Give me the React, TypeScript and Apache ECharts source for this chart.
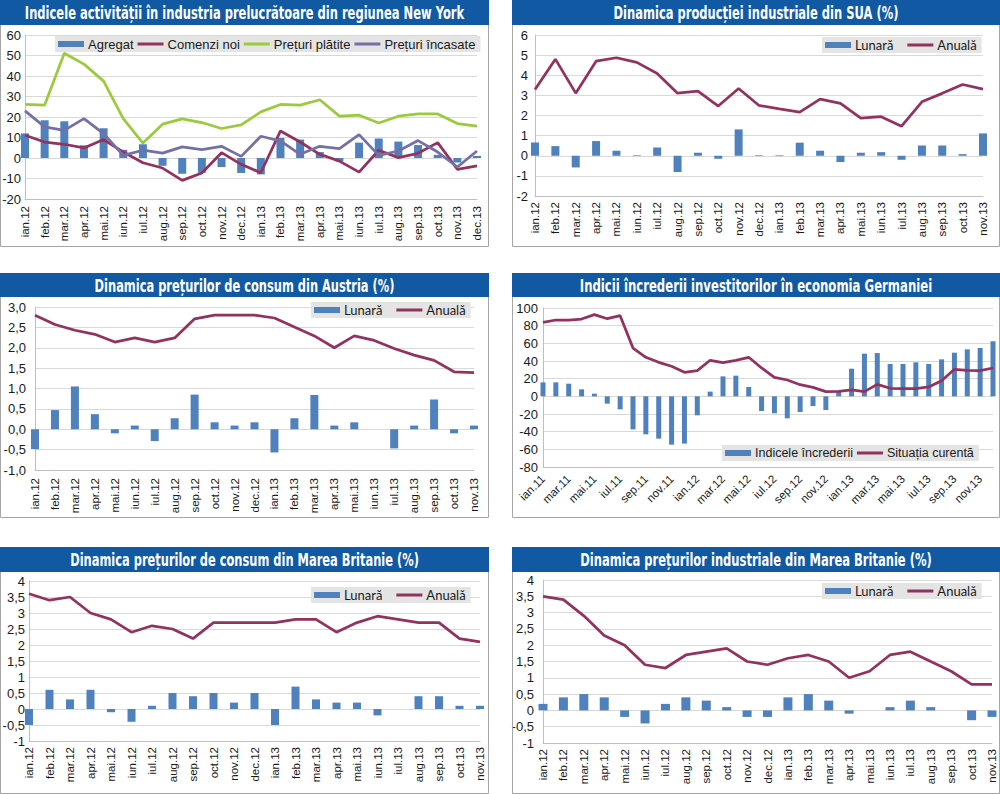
import React, { useEffect, useRef } from "react";
import * as echarts from "echarts";

// ---------- Categories ----------
const monthsNY = ["ian.12","feb.12","mar.12","apr.12","mai.12","iun.12","iul.12","aug.12","sep.12","oct.12","nov.12","dec.12","ian.13","feb.13","mar.13","apr.13","mai.13","iun.13","iul.13","aug.13","sep.13","oct.13","nov.13","dec.13"];
const months23 = ["ian.12","feb.12","mar.12","apr.12","mai.12","iun.12","iul.12","aug.12","sep.12","oct.12","nov.12","dec.12","ian.13","feb.13","mar.13","apr.13","mai.13","iun.13","iul.13","aug.13","sep.13","oct.13","nov.13"];
const monthsDE = ["ian.11","feb.11","mar.11","apr.11","mai.11","iun.11","iul.11","aug.11","sep.11","oct.11","nov.11","dec.11","ian.12","feb.12","mar.12","apr.12","mai.12","iun.12","iul.12","aug.12","sep.12","oct.12","nov.12","dec.12","ian.13","feb.13","mar.13","apr.13","mai.13","iun.13","iul.13","aug.13","sep.13","oct.13","nov.13","dec.13"];

// ---------- Panel 1: New York ----------
const nyAgregat = [12, 18.4, 17.9, 6.2, 14.5, 4, 6.7, -3.8, -7.7, -7.2, -4.4, -7.3, -8, 9.8, 9, 2.9, -1.6, 7.5, 9.5, 8, 6.3, 1.5, -2.2, 1];
const nyComenzi = [11.1, 7.8, 6.7, 4.9, 9.0, 2.9, -2.3, -4.9, -10.9, -7.3, 2.6, -3.1, -7.2, 13.2, 7.8, 1.8, -1.5, -6.9, 3.8, 0.2, 2.3, 7.5, -5.5, -3.8];
const nyPlatite = [26.1, 25.8, 51.1, 45.8, 37.5, 19.2, 7.3, 16.5, 19.1, 17.3, 14.4, 16.2, 22.5, 26.1, 25.8, 28.4, 20.4, 20.9, 17.1, 20.4, 21.5, 21.5, 16.8, 15.5];
const nyIncasate = [23.0, 15.2, 13.5, 19.2, 11.9, 1.3, 3.8, 2.4, 5.4, 4.1, 5.7, 0.8, 10.6, 8.3, 1.8, 5.7, 4.6, 11.4, 1.3, 3.4, 8.5, 2.9, -4.4, 3.4];

// ---------- Panel 2: SUA ----------
const usLunara = [0.66, 0.48, -0.58, 0.73, 0.25, 0.03, 0.41, -0.81, 0.15, -0.15, 1.31, 0.03, 0.03, 0.65, 0.25, -0.31, 0.15, 0.18, -0.2, 0.51, 0.51, 0.08, 1.11];
const usAnuala = [3.29, 4.80, 3.11, 4.70, 4.87, 4.64, 4.09, 3.11, 3.21, 2.47, 3.34, 2.50, 2.33, 2.17, 2.81, 2.60, 1.87, 1.94, 1.47, 2.68, 3.10, 3.54, 3.31];

// ---------- Panel 3: Austria ----------
const atLunara = [-0.49, 0.47, 1.05, 0.37, -0.1, 0.09, -0.29, 0.27, 0.85, 0.17, 0.09, 0.17, -0.57, 0.27, 0.84, 0.09, 0.17, 0, -0.47, 0.09, 0.73, -0.1, 0.09];
const atAnuala = [2.80, 2.57, 2.43, 2.33, 2.14, 2.24, 2.14, 2.24, 2.71, 2.80, 2.80, 2.80, 2.73, 2.51, 2.29, 2.0, 2.29, 2.18, 1.98, 1.82, 1.69, 1.41, 1.39];

// ---------- Panel 4: Germania ----------
const deIncredere = [15.8, 15.8, 14.3, 7.9, 3.0, -8.3, -14.7, -37.4, -43, -47.9, -54.7, -53.5, -21.5, 5.3, 22.6, 23.4, 10.6, -16.6, -19.2, -24.9, -17.7, -11, -15.5, 5.7, 31.3, 48.3, 49, 36.6, 36.6, 38.5, 36.6, 41.9, 49.4, 53.2, 54.7, 62.3];
const deCurenta = [83.8, 86.4, 86.4, 87.5, 92.5, 87.9, 91.3, 54.7, 44.2, 38.5, 34, 27.2, 29.1, 40.8, 38.1, 40.8, 44.2, 32.1, 21.5, 18.5, 13.2, 10.2, 5.3, 5.7, 7.2, 5.3, 13.6, 9.1, 8.7, 8.7, 10.6, 17.7, 30.6, 29.4, 29.1, 32.1];

// ---------- Panel 5: Marea Britanie CPI ----------
const ukCpiLunara = [-0.5, 0.6, 0.3, 0.6, -0.1, -0.4, 0.1, 0.5, 0.4, 0.5, 0.2, 0.5, -0.5, 0.7, 0.3, 0.2, 0.2, -0.2, 0, 0.4, 0.4, 0.1, 0.1];
const ukCpiAnuala = [3.6, 3.4, 3.5, 3.0, 2.8, 2.4, 2.6, 2.5, 2.2, 2.7, 2.7, 2.7, 2.7, 2.8, 2.8, 2.4, 2.7, 2.9, 2.8, 2.7, 2.7, 2.2, 2.1];

// ---------- Panel 6: Marea Britanie PPI ----------
const ukPpiLunara = [0.2, 0.4, 0.5, 0.4, -0.2, -0.4, 0.2, 0.4, 0.3, 0.1, -0.2, -0.2, 0.4, 0.5, 0.3, -0.1, 0, 0.1, 0.3, 0.1, 0, -0.3, -0.2];
const ukPpiAnuala = [3.5, 3.4, 2.9, 2.3, 2.0, 1.4, 1.3, 1.7, 1.8, 1.9, 1.5, 1.4, 1.6, 1.7, 1.5, 1.0, 1.2, 1.7, 1.8, 1.5, 1.2, 0.8, 0.8];

// ---------- Titles ----------
const titles = [
  "Indicele activității în industria prelucrătoare din regiunea New York",
  "Dinamica producției industriale din SUA (%)",
  "Dinamica prețurilor de consum din Austria (%)",
  "Indicii încrederii investitorilor în economia Germaniei",
  "Dinamica prețurilor de consum din Marea Britanie (%)",
  "Dinamica prețurilor industriale din Marea Britanie (%)",
];

const BLUE = "#4F81BD";
const PLUM = "#93325f";
const GREEN = "#9BCB3C";
const PURPLE = "#7470a6";
const TITLE_BG = "#1259a3";
const FONT = '"Liberation Sans", Arial, sans-serif';
const LFONT = 'Lato, "Liberation Sans", sans-serif';
const TFONT = '"Liberation Sans Narrow", "DejaVu Sans Condensed", "Liberation Sans", sans-serif';
const LINE_ICON = "path://M0,0H26V3H0Z";

function measure(txt: string, font: string) {
  const c = document.createElement("canvas").getContext("2d");
  if (!c) return 100;
  c.font = font;
  return c.measureText(txt).width;
}

export default function App() {
  const ref = useRef<HTMLDivElement>(null);
  useEffect(() => {
    if (!ref.current) return;
    const chart = echarts.init(ref.current, null, { renderer: "svg" });

    const comma1 = (v: number) => v.toFixed(1).replace(".", ",");
    const commaS = (v: number) => String(v).replace(".", ",");

    const grids = [
      { left: 25, right: 523, top: 35, bottom: 595 },
      { left: 535, right: 17, top: 35, bottom: 598 },
      { left: 35, right: 526, top: 307, bottom: 324 },
      { left: 543, right: 7, top: 308, bottom: 327 },
      { left: 29, right: 520, top: 581, bottom: 53 },
      { left: 543, right: 8, top: 580, bottom: 51 },
    ].map((g) => ({ ...g, containLabel: false, outerBoundsMode: "none" }));

    const xAx = (idx: number, data: string[], rotate: number, interval: number, margin: number) => ({
      type: "category",
      gridIndex: idx,
      data,
      boundaryGap: false,
      axisLine: { show: true, onZero: false, lineStyle: { color: "#BFBFBF", width: 1 } },
      axisTick: { show: false },
      splitLine: { show: false },
      axisLabel: {
        rotate,
        interval,
        margin,
        color: "#1a1a1a",
        fontSize: 11.5,
        fontFamily: FONT,
      },
    });
    const yAx = (idx: number, min: number, max: number, interval: number, margin: number, formatter?: any) => ({
      type: "value",
      gridIndex: idx,
      min,
      max,
      interval,
      axisLine: { show: true, lineStyle: { color: "#BFBFBF", width: 1 } },
      axisTick: { show: false },
      splitLine: { show: true, lineStyle: { color: "#D9D9D9", width: 1 } },
      axisLabel: { margin, color: "#1a1a1a", fontSize: 13, fontFamily: FONT, formatter },
    });

    const bar = (name: string, idx: number, data: number[], width: number) => ({
      type: "bar",
      name,
      xAxisIndex: idx,
      yAxisIndex: idx,
      data,
      barWidth: width,
      clip: false,
      itemStyle: { color: BLUE },
      z: 2,
    });
    const line = (name: string, idx: number, data: number[], color: string) => ({
      type: "line",
      name,
      xAxisIndex: idx,
      yAxisIndex: idx,
      data,
      symbol: "none",
      showSymbol: false,
      clip: false,
      lineStyle: { color, width: 2.75 },
      itemStyle: { color },
      z: 3,
    });

    const legend = (left: number, top: number, names: string[], font: string, fontSize: number, itemGap: number) => ({
      left,
      top,
      orient: "horizontal",
      data: names.map((n, i) => ({ name: n, icon: i === 0 ? "rect" : LINE_ICON })),
      backgroundColor: "#E4E4E4",
      padding: [1, 5, 1, 3],
      itemGap,
      itemWidth: 26,
      itemHeight: 6,
      symbolKeepAspect: true,
      selectedMode: false,
      textStyle: { color: "#1a1a1a", fontSize, fontFamily: font, lineHeight: 14, padding: [0, 0, 0, -1] },
      z: 5,
    });

    // title bars & borders
    const boxes = [
      { x: 0, y: 0, w: 489, h: 247, th: 25 },
      { x: 512, y: 0, w: 488, h: 247, th: 25 },
      { x: 0, y: 273, w: 489, h: 245, th: 24 },
      { x: 512, y: 273, w: 488, h: 245, th: 24 },
      { x: 0, y: 547, w: 489, h: 247, th: 25 },
      { x: 512, y: 547, w: 488, h: 247, th: 25 },
    ];
    const titleWidths = [440, 285, 300, 353, 349, 352];
    const tFontSize = 18;
    const tFontCss = `bold ${tFontSize}px ${TFONT}`;
    const graphics: any[] = [];
    boxes.forEach((b, i) => {
      graphics.push({
        type: "rect",
        shape: { x: b.x + 0.5, y: b.y + 0.5, width: b.w - 1, height: b.h - 1 },
        style: { fill: "none", stroke: "#A6A6A6", lineWidth: 1 },
        z: 10,
      });
      graphics.push({
        type: "rect",
        shape: { x: b.x, y: b.y, width: b.w, height: b.th },
        style: { fill: TITLE_BG },
        z: 11,
      });
      const mw = measure(titles[i], tFontCss);
      const s = Math.min(1.3, titleWidths[i] / mw);
      graphics.push({
        type: "text",
        x: b.x + b.w / 2,
        y: b.y + b.th / 2 + 1,
        scaleX: s,
        style: {
          text: titles[i],
          x: 0,
          y: 0,
          align: "center",
          verticalAlign: "middle",
          fill: "#ffffff",
          font: tFontCss,
        },
        z: 12,
      });
    });

    const option: any = {
      animation: false,
      backgroundColor: "#ffffff",
      grid: grids,
      xAxis: [
        xAx(0, monthsNY, 90, 0, 7),
        xAx(1, months23, 90, 0, 6),
        xAx(2, months23, 90, 0, 8),
        xAx(3, monthsDE, 45, 1, 10),
        xAx(4, months23, 90, 0, 6),
        xAx(5, months23, 90, 0, 6),
      ],
      yAxis: [
        yAx(0, -20, 60, 10, 4),
        yAx(1, -2, 6, 1, 7),
        yAx(2, -1, 3, 0.5, 9, comma1),
        yAx(3, -80, 100, 20, 5),
        yAx(4, -1, 4, 0.5, 4, commaS),
        yAx(5, -1, 4, 0.5, 9, commaS),
      ],
      legend: [
        legend(55, 36, ["Agregat", "Comenzi noi", "Prețuri plătite", "Prețuri încasate"], FONT, 13, 4),
        legend(822, 37, ["Lunară", "Anuală"], LFONT, 13, 14),
        legend(311, 302, ["Lunară", "Anuală"], LFONT, 13, 14),
        legend(722, 445, ["Indicele încrederii", "Situația curentă"], FONT, 12.5, 4),
        legend(311, 587, ["Lunară", "Anuală"], LFONT, 13, 14),
        legend(822, 583, ["Lunară", "Anuală"], LFONT, 13, 14),
      ],
      series: [
        bar("Agregat", 0, nyAgregat, 8),
        line("Comenzi noi", 0, nyComenzi, PLUM),
        line("Prețuri plătite", 0, nyPlatite, GREEN),
        line("Prețuri încasate", 0, nyIncasate, PURPLE),
        bar("Lunară", 1, usLunara, 8),
        line("Anuală", 1, usAnuala, PLUM),
        bar("Lunară", 2, atLunara, 8),
        line("Anuală", 2, atAnuala, PLUM),
        bar("Indicele încrederii", 3, deIncredere, 5),
        line("Situația curentă", 3, deCurenta, PLUM),
        bar("Lunară", 4, ukCpiLunara, 8),
        line("Anuală", 4, ukCpiAnuala, PLUM),
        bar("Lunară", 5, ukPpiLunara, 9),
        line("Anuală", 5, ukPpiAnuala, PLUM),
      ],
      graphic: graphics,
    };
    chart.setOption(option);
    return () => chart.dispose();
  }, []);

  return (
    <div
      ref={ref}
      style={{ position: "absolute", left: 0, top: 0, width: 1000, height: 794, background: "#fff" }}
    />
  );
}
